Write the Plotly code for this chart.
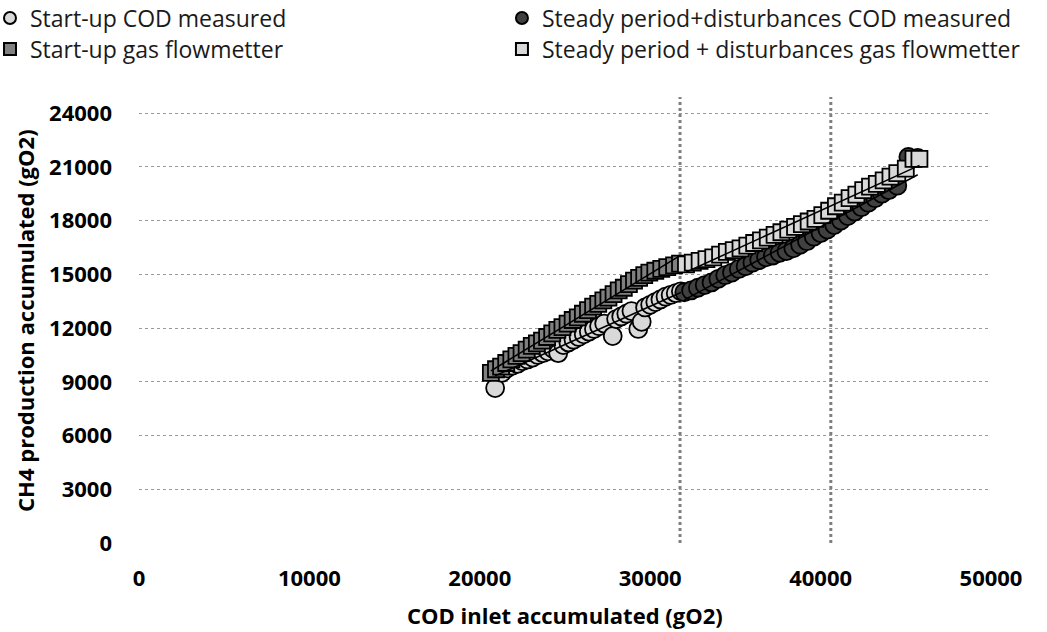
import numpy as np
import plotly.graph_objects as go

# ---- data ----
startup_cod_x = [20900, 21300, 21600, 21900, 22200, 22500, 22800, 23100, 23400, 23700, 24000, 24300,
                 24600, 24900, 25200, 25500, 25800, 26100, 26400, 26700, 27000, 27300, 27800, 28000,
                 28300, 28600, 28900, 29300, 29500, 29700, 30000, 30300, 30600, 30900, 31200, 31500, 31800]
startup_cod_y = [8650, 9500, 9750, 9900, 10000, 10150, 10250, 10350, 10500, 10600, 10700, 10850,
                 10600, 11050, 11200, 11350, 11500, 11650, 11800, 11950, 12100, 12250, 11550, 12500,
                 12650, 12800, 12950, 11950, 12350, 13150, 13300, 13450, 13600, 13750, 13850, 13950, 14050]

steady_cod_x = [32000, 32400, 32800, 33200, 33600, 34000, 34400, 34800, 35200, 35600, 36000, 36400,
                36800, 37200, 37600, 38000, 38400, 38800, 39200, 39600, 40000, 40400, 40800, 41200,
                41600, 42000, 42400, 42800, 43200, 43600, 44000, 44500, 45150, 45700]
steady_cod_y = [14000, 14100, 14250, 14400, 14550, 14750, 14950, 15100, 15300, 15450, 15650, 15800,
                15950, 16050, 16200, 16300, 16450, 16650, 16850, 17100, 17300, 17500, 17750, 18000,
                18250, 18500, 18750, 19000, 19250, 19500, 19700, 19950, 21550, 21500]

startup_gas_x = [20650, 20950, 21250, 21550, 21850, 22150, 22450, 22750, 23050, 23350, 23650, 23950,
                 24250, 24550, 24850, 25150, 25450, 25750, 26050, 26350, 26650, 26950, 27250, 27550,
                 27850, 28150, 28450, 28750, 29050, 29350, 29650, 29950, 30300, 30650, 31000, 31400, 31750]
startup_gas_y = [9500, 9700, 9850, 10050, 10250, 10450, 10600, 10800, 11000, 11150, 11300, 11500,
                 11700, 11900, 12050, 12250, 12450, 12600, 12800, 13000, 13200, 13350, 13550, 13700,
                 13900, 14100, 14250, 14450, 14650, 14800, 14950, 15100, 15200, 15300, 15400, 15500, 15600]

steady_gas_x = [32100, 32500, 32900, 33300, 33700, 34100, 34500, 34900, 35300, 35700, 36100, 36500,
                36900, 37300, 37700, 38100, 38500, 38900, 39300, 39700, 40100, 40500, 40900, 41300,
                41700, 42100, 42500, 42900, 43300, 43700, 44100, 44500, 45000, 45450, 45800]
steady_gas_y = [15550, 15650, 15750, 15850, 15950, 16100, 16250, 16350, 16450, 16600, 16750, 16900,
                17050, 17200, 17350, 17500, 17650, 17800, 17950, 18100, 18300, 18550, 18800, 19000,
                19250, 19450, 19700, 19900, 20050, 20250, 20450, 20650, 20900, 21450, 21450]

phase_boundaries = [31750, 40600]
y_ticks = [0, 3000, 6000, 9000, 12000, 15000, 18000, 21000, 24000]
x_ticks = [0, 10000, 20000, 30000, 40000, 50000]

Y_MAX = 24900

FONT = "Open Sans"
fig = go.Figure()

series = [
    ("Start-up COD measured", startup_cod_x, startup_cod_y, "circle", "#d9d9d9", 18, "legend"),
    ("Steady period+disturbances COD measured", steady_cod_x, steady_cod_y, "circle", "#404040", 18, "legend2"),
    ("Start-up gas flowmetter", startup_gas_x, startup_gas_y, "square", "#808080", 16, "legend3"),
    ("Steady period + disturbances gas flowmetter", steady_gas_x, steady_gas_y, "square", "#d9d9d9", 16, "legend4"),
]

# phase boundary lines
for xb in phase_boundaries:
    fig.add_trace(go.Scatter(x=[xb, xb], y=[0, Y_MAX], mode="lines",
                             line=dict(color="#7f7f7f", width=3, dash="dot"),
                             showlegend=False, hoverinfo="skip"))

for name, xs, ys, sym, col, sz, lg in series:
    fig.add_trace(go.Scatter(x=xs, y=ys, mode="markers", name=name, legend=lg,
                             marker=dict(symbol=sym, color=col, size=sz,
                                         line=dict(color="black", width=1.8))))

# linear trend lines
for name, xs, ys, sym, col, sz, lg in series:
    a, b = np.polyfit(xs, ys, 1)
    xx = np.array([min(xs), max(xs)])
    fig.add_trace(go.Scatter(x=xx, y=a * xx + b, mode="lines",
                             line=dict(color="black", width=1.5),
                             showlegend=False, hoverinfo="skip"))

legend_common = dict(orientation="v", xanchor="left", yanchor="middle",
                     font=dict(family=FONT, size=23, color="#1a1a1a"),
                     itemsizing="constant", bgcolor="rgba(0,0,0,0)",
                     traceorder="normal", borderwidth=0)

COL1_X, COL2_X = -0.1749, 0.426
ROW1_Y, ROW2_Y = 1.1771, 1.1076

fig.update_layout(
    width=1047, height=632,
    margin=dict(l=139, r=56, t=97, b=89, autoexpand=False),
    plot_bgcolor="white", paper_bgcolor="white",
    font=dict(family=FONT, color="black"),
    legend=dict(x=COL1_X, y=ROW1_Y, **legend_common),
    legend2=dict(x=COL2_X, y=ROW1_Y, **legend_common),
    legend3=dict(x=COL1_X, y=ROW2_Y, **legend_common),
    legend4=dict(x=COL2_X, y=ROW2_Y, **legend_common),
    xaxis=dict(range=[0, 50000], tickvals=x_ticks, ticktext=[str(v) for v in x_ticks],
               showgrid=False, zeroline=False, showline=False, ticks="", automargin=False,
               ticklabelstandoff=20,
               tickfont=dict(family=FONT, size=22, color="black", weight="bold")),
    yaxis=dict(range=[0, Y_MAX], tickvals=y_ticks, ticktext=[str(v) for v in y_ticks],
               showgrid=True, gridcolor="#9a9a9a", griddash="dot", gridwidth=1,
               zeroline=False, showline=False, ticks="", automargin=False,
               ticklabelstandoff=26,
               tickfont=dict(family=FONT, size=22, color="black", weight="bold")),
    annotations=[
        dict(text="<b>COD inlet accumulated (gO2)</b>", xref="paper", yref="paper",
             x=0.5, y=-0.1614, xanchor="center", yanchor="middle", showarrow=False,
             font=dict(family=FONT, size=22, color="black")),
        dict(text="<b>CH4 production accumulated (gO2)</b>", xref="paper", yref="paper",
             x=-0.1338, y=0.498, xanchor="center", yanchor="middle", showarrow=False,
             textangle=-90, font=dict(family=FONT, size=22, color="black")),
    ],
)

fig.write_html("out.html", config={"displayModeBar": False},
               post_script="document.body.style.margin='0';")
